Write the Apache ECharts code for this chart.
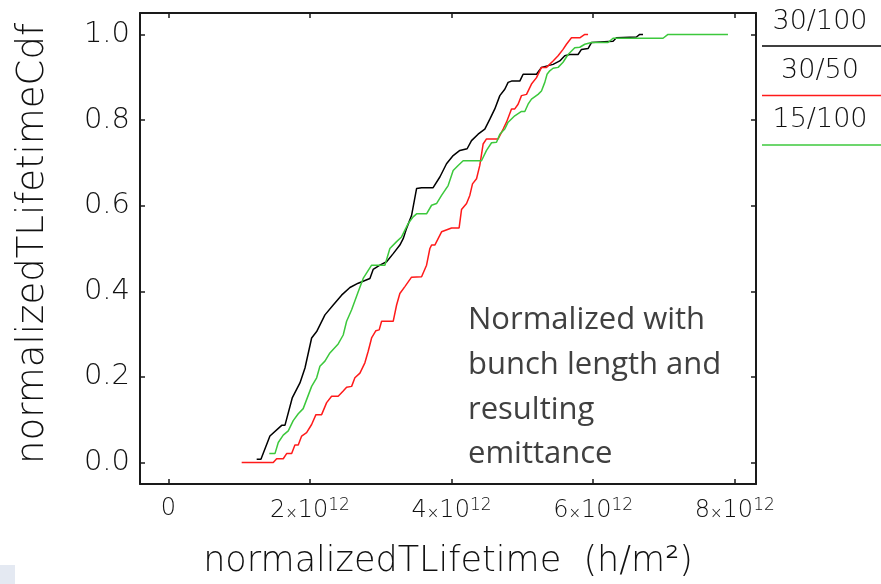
<!DOCTYPE html>
<html>
<head>
<meta charset="utf-8">
<script src="https://cdn.jsdelivr.net/npm/echarts@6/dist/echarts.min.js"></script>
<style>
  html, body { margin: 0; padding: 0; background: #ffffff; }
  #chart { width: 881px; height: 584px; }
</style>
</head>
<body>
<div id="chart"></div>
<script>
// x values are in units of 10^12 h/m^2, y is the cumulative fraction
const seriesNames = ['30/100', '30/50', '15/100'];
const seriesColors = ['#000000', '#ff1a1a', '#3cc83c'];

const cdf30_100 = [
  [1.248, 0.008], [1.308, 0.008], [1.435, 0.062], [1.601, 0.087], [1.647, 0.087],
  [1.750, 0.151], [1.859, 0.186], [1.930, 0.221], [2.024, 0.291], [2.095, 0.306],
  [2.212, 0.345], [2.329, 0.368], [2.447, 0.391], [2.565, 0.409], [2.682, 0.419],
  [2.847, 0.430], [2.893, 0.451], [2.988, 0.461], [3.083, 0.469], [3.176, 0.488],
  [3.270, 0.508], [3.317, 0.523], [3.365, 0.547], [3.435, 0.577], [3.506, 0.640],
  [3.577, 0.642], [3.740, 0.642], [3.835, 0.667], [3.929, 0.698], [4.023, 0.717],
  [4.117, 0.729], [4.220, 0.733], [4.282, 0.752], [4.375, 0.767], [4.470, 0.779],
  [4.541, 0.802], [4.611, 0.826], [4.682, 0.857], [4.752, 0.872], [4.799, 0.888],
  [4.847, 0.891], [4.964, 0.891], [5.011, 0.907], [5.200, 0.907], [5.270, 0.923],
  [5.434, 0.930], [5.529, 0.938], [5.599, 0.950], [5.670, 0.953], [5.787, 0.953],
  [5.835, 0.965], [5.928, 0.967], [5.976, 0.981], [6.281, 0.984], [6.329, 0.992],
  [6.611, 0.994], [6.658, 1.000], [6.704, 1.000]
];

const cdf30_50 = [
  [1.036, 0.000], [1.482, 0.000], [1.530, 0.009], [1.623, 0.009], [1.671, 0.021],
  [1.742, 0.021], [1.788, 0.041], [1.835, 0.041], [1.883, 0.062], [1.953, 0.070],
  [2.024, 0.089], [2.085, 0.112], [2.165, 0.112], [2.236, 0.140], [2.306, 0.155],
  [2.399, 0.155], [2.470, 0.167], [2.518, 0.176], [2.589, 0.178], [2.635, 0.198],
  [2.706, 0.209], [2.776, 0.233], [2.823, 0.260], [2.871, 0.291], [2.932, 0.308],
  [2.978, 0.310], [3.012, 0.330], [3.176, 0.330], [3.224, 0.368], [3.270, 0.395],
  [3.341, 0.411], [3.435, 0.433], [3.577, 0.434], [3.647, 0.461], [3.694, 0.500],
  [3.718, 0.508], [3.764, 0.508], [3.859, 0.539], [4.000, 0.548], [4.107, 0.548],
  [4.141, 0.591], [4.212, 0.605], [4.258, 0.624], [4.296, 0.651], [4.353, 0.663],
  [4.399, 0.694], [4.446, 0.744], [4.494, 0.756], [4.658, 0.756], [4.729, 0.779],
  [4.776, 0.795], [4.847, 0.826], [4.893, 0.826], [4.940, 0.837], [4.988, 0.857],
  [5.059, 0.860], [5.129, 0.884], [5.200, 0.899], [5.270, 0.923], [5.341, 0.923],
  [5.434, 0.938], [5.505, 0.950], [5.575, 0.965], [5.623, 0.977], [5.694, 0.992],
  [5.811, 0.992], [5.882, 1.000], [5.928, 1.000]
];

const cdf15_100 = [
  [1.426, 0.021], [1.506, 0.021], [1.553, 0.047], [1.623, 0.064], [1.694, 0.074],
  [1.764, 0.098], [1.835, 0.114], [1.905, 0.126], [2.024, 0.178], [2.095, 0.198],
  [2.141, 0.225], [2.212, 0.237], [2.282, 0.256], [2.399, 0.277], [2.470, 0.298],
  [2.518, 0.330], [2.589, 0.357], [2.682, 0.399], [2.752, 0.430], [2.871, 0.461],
  [3.059, 0.461], [3.129, 0.500], [3.224, 0.516], [3.294, 0.527], [3.387, 0.558],
  [3.458, 0.574], [3.506, 0.581], [3.647, 0.581], [3.718, 0.601], [3.788, 0.605],
  [3.859, 0.624], [3.952, 0.647], [4.023, 0.682], [4.093, 0.694], [4.164, 0.705],
  [4.423, 0.705], [4.494, 0.729], [4.565, 0.747], [4.635, 0.748], [4.682, 0.767],
  [4.752, 0.779], [4.799, 0.795], [4.893, 0.810], [4.988, 0.820], [5.035, 0.820],
  [5.081, 0.837], [5.129, 0.849], [5.222, 0.860], [5.270, 0.868], [5.317, 0.888],
  [5.349, 0.907], [5.387, 0.915], [5.434, 0.921], [5.505, 0.923], [5.575, 0.935],
  [5.646, 0.953], [5.740, 0.969], [5.811, 0.970], [5.882, 0.977], [5.976, 0.981],
  [6.210, 0.981], [6.281, 0.991], [6.987, 0.991], [7.057, 1.000], [7.904, 1.000]
];

const xTickValues = [0, 2, 4, 6, 8];
const yTickValues = [0, 0.2, 0.4, 0.6, 0.8, 1.0];
const xAxisTitle = 'normalizedTLifetime  (h/m²)';
const yAxisTitle = 'normalizedTLifetimeCdf';
const noteLines = ['Normalized with', 'bunch length and', 'resulting', 'emittance'];

const thinFont = 'DejaVu Sans';
const frameColor = '#1a1a1a';
const textColor = '#111111';

const chart = echarts.init(document.getElementById('chart'), null, { renderer: 'canvas' });

function xLabel(v) {
  if (v === 0) return '0';
  return v + '{x|×}10{sup|12}';
}

const baseX = {
  type: 'value', min: -0.4, max: 8.3,
  axisLine: { show: true, onZero: false, lineStyle: { color: frameColor, width: 2 } },
  axisTick: { show: true, inside: true, length: 5, customValues: xTickValues,
              lineStyle: { color: frameColor, width: 1.5 } },
  splitLine: { show: false }
};
const baseY = {
  type: 'value', min: -0.05, max: 1.05,
  axisLine: { show: true, onZero: false, lineStyle: { color: frameColor, width: 2 } },
  axisTick: { show: true, inside: true, length: 5, customValues: yTickValues,
              lineStyle: { color: frameColor, width: 1.5 } },
  splitLine: { show: false }
};

const series = [cdf30_100, cdf30_50, cdf15_100].map((d, i) => ({
  name: seriesNames[i], type: 'line', data: d, symbol: 'none',
  lineStyle: { color: seriesColors[i], width: 1.5 }, z: 2 + i,
  animation: false
}));

const legendGraphics = [];
seriesNames.forEach((n, i) => {
  legendGraphics.push({
    type: 'text', z: 10, x: 820, y: 21.7 + i * 49.2,
    style: { text: n, font: '200 27px "' + thinFont + '"', fill: textColor,
             align: 'center', verticalAlign: 'middle' }
  });
  legendGraphics.push({
    type: 'line', z: 10,
    shape: { x1: 762, y1: 46 + i * 49.5, x2: 881, y2: 46 + i * 49.5 },
    style: { stroke: seriesColors[i], lineWidth: 1.5 }
  });
});

const option = {
  backgroundColor: '#ffffff',
  animation: false,
  grid: { left: 140, top: 13, right: 125, bottom: 97, containLabel: false },
  xAxis: [
    Object.assign({}, baseX, {
      position: 'bottom',
      name: xAxisTitle, nameLocation: 'middle', nameGap: 60,
      nameTextStyle: { fontFamily: thinFont, fontWeight: 200, fontSize: 35, color: textColor },
      axisLabel: { show: true, customValues: xTickValues, margin: 13, formatter: xLabel,
        fontFamily: thinFont, fontWeight: 200, fontSize: 24, color: textColor,
        rich: {
          x: { fontFamily: thinFont, fontWeight: 200, fontSize: 15, color: textColor, verticalAlign: 'bottom', padding: [0, 0, 2, 0] },
          sup: { fontFamily: thinFont, fontWeight: 200, fontSize: 17, color: textColor, verticalAlign: 'top', padding: [0, 0, 10, 0] }
        } }
    }),
    Object.assign({}, baseX, { position: 'top', axisLabel: { show: false } })
  ],
  yAxis: [
    Object.assign({}, baseY, {
      position: 'left',
      name: yAxisTitle, nameLocation: 'middle', nameGap: 88, nameRotate: 90,
      nameTextStyle: { fontFamily: thinFont, fontWeight: 200, fontSize: 37, color: textColor, padding: [0, 0, 0, 10] },
      axisLabel: { show: true, customValues: yTickValues, margin: 10,
        formatter: v => v.toFixed(1),
        fontFamily: thinFont, fontWeight: 200, fontSize: 29, color: textColor }
    }),
    Object.assign({}, baseY, { position: 'right', axisLabel: { show: false } })
  ],
  series: series,
  graphic: legendGraphics.concat([
    {
      type: 'text', left: 468, top: 298, z: 10,
      style: { text: noteLines.join('\n'), font: '31px "Open Sans"', lineHeight: 44.7, fill: '#404040' }
    },
    {
      type: 'rect', left: 0, top: 565, z: 10,
      shape: { width: 15, height: 19 }, style: { fill: '#e4e9f2' }
    }
  ])
};

chart.setOption(option);
</script>
</body>
</html>
